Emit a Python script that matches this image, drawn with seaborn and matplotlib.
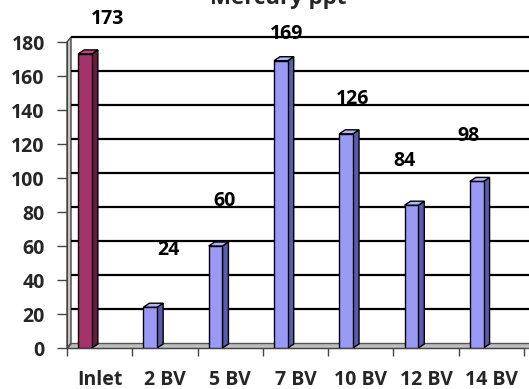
import matplotlib
matplotlib.use("Agg")
import matplotlib.pyplot as plt
from matplotlib.patches import Polygon
import seaborn as sns
import pandas as pd

# Mercury concentration per sample
categories = ["Inlet", "2 BV", "5 BV", "7 BV", "10 BV", "12 BV", "14 BV"]
mercury_ppt = [173, 24, 60, 169, 126, 84, 98]
y_ticks = [0, 20, 40, 60, 80, 100, 120, 140, 160, 180]

# Value label nudges (category units, ppt) for the perspective look
label_dx = [0.34, 0.27, 0.14, 0.09, 0.10, -0.10, -0.12]
label_dy = [20.5, 33.6, 26.5, 15.7, 20.5, 26.0, 26.7]

sns.set_style("white")
plt.rcParams["font.family"] = ["Open Sans", "DejaVu Sans"]
plt.rcParams["font.weight"] = "bold"

FRONT = ["#A3336A"] + ["#9A9AF6"] * 6
SIDE = ["#6A1A40"] + ["#5A5AAE"] * 6
TOP = ["#B84C80"] + ["#B4B4FF"] * 6
FS = 14

df = pd.DataFrame({"cat": categories, "val": mercury_ppt})

fig = plt.figure(figsize=(5.29, 3.89), dpi=100)
ax = fig.add_axes([67 / 529, 41 / 389, (524 - 67) / 529, (347 - 41) / 389])

sns.barplot(data=df, x="cat", y="val", hue="cat", order=categories,
            palette=FRONT, width=0.21, legend=False, ax=ax,
            edgecolor="black", linewidth=1.0, saturation=1, zorder=5)

XL = (-0.276, 6.724)
ax.set_xlim(*XL)
ax.set_ylim(0, 180)

# pixels -> data units for the depth effect
px_x = (XL[1] - XL[0]) / 457.0
px_y = 180.0 / 306.0

# back wall depth
wdx, wdy = 4 * px_x, 5 * px_y
x_end = XL[1] + 6 * px_x
# side wall
ax.add_patch(Polygon([(XL[0], 0), (XL[0], 180), (XL[0] + wdx, 180 + wdy),
                      (XL[0] + wdx, wdy)], closed=True, facecolor="#C8C8C8",
                     edgecolor="#444444", linewidth=1.0, zorder=1, clip_on=False))
# floor
ax.add_patch(Polygon([(XL[0], 0), (x_end, 0), (x_end, wdy), (XL[0] + wdx, wdy)],
                     closed=True, facecolor="#BDBDBD", edgecolor="#555555",
                     linewidth=1.0, zorder=1, clip_on=False))
# gridlines on the back wall
for t in y_ticks[1:]:
    ax.plot([XL[0] + wdx, x_end], [t + wdy, t + wdy], color="black",
            linewidth=1.6, zorder=2, clip_on=False, solid_capstyle="butt")

# 3D side and top faces of each bar
bdx, bdy = 6 * px_x, 4 * px_y
for i, p in enumerate(ax.patches[:len(categories)]):
    x0 = p.get_x()
    w = p.get_width()
    h = p.get_height()
    x1 = x0 + w
    ax.add_patch(Polygon([(x1, 0), (x1, h), (x1 + bdx, h + bdy), (x1 + bdx, bdy)],
                         closed=True, facecolor=SIDE[i], edgecolor="black",
                         linewidth=1.0, zorder=4))
    ax.add_patch(Polygon([(x0, h), (x1, h), (x1 + bdx, h + bdy), (x0 + bdx, h + bdy)],
                         closed=True, facecolor=TOP[i], edgecolor="black",
                         linewidth=1.0, zorder=6))

# value labels
for i, v in enumerate(mercury_ppt):
    ax.text(i + label_dx[i], v + label_dy[i], f"{v}", ha="center", va="center",
            fontsize=FS, fontweight="bold", color="black", zorder=7, clip_on=False)

# axes styling
for s in ["top", "right"]:
    ax.spines[s].set_visible(False)
ax.spines["left"].set_color("#444444")
ax.spines["bottom"].set_color("#444444")
ax.spines["left"].set_zorder(3)

ax.set_yticks(y_ticks)
ax.set_yticklabels([str(t) for t in y_ticks], fontsize=FS, fontweight="bold")
ax.tick_params(axis="y", direction="out", length=7, width=1.0, color="#444444",
               pad=9, left=True)

# category boundaries as tick marks, labels centred between them
bounds = [XL[0] + k for k in range(len(categories) + 1)]
ax.set_xticks(bounds)
ax.set_xticklabels([""] * len(bounds))
ax.tick_params(axis="x", which="major", direction="out", length=6, width=1.0,
               color="#444444", bottom=True)
ax.set_xticks([i + 0.224 for i in range(len(categories))], minor=True)
ax.set_xticklabels(categories, minor=True, fontsize=FS, fontweight="bold")
ax.tick_params(axis="x", which="minor", length=0, pad=16)

ax.set_xlabel("")
ax.set_ylabel("")

fig.text(278 / 529, 1 - 4 / 389, "Mercury ppt", ha="center", va="baseline",
         fontsize=16, fontweight="bold")

fig.savefig("out.png", dpi=100)
